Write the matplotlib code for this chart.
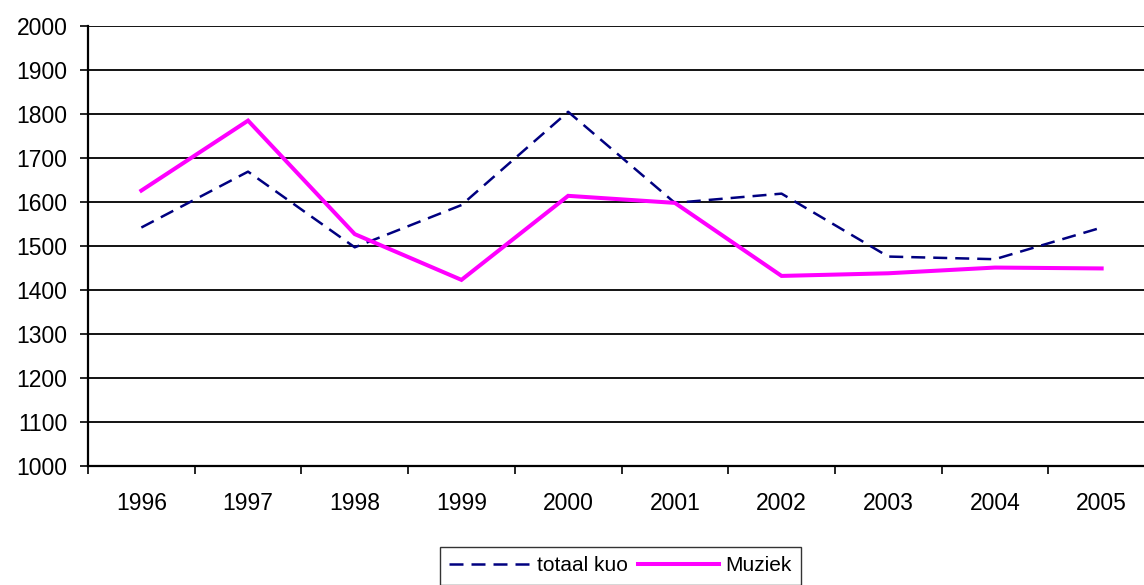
import numpy as np
import matplotlib
matplotlib.use("Agg")
import matplotlib.pyplot as plt

plt.rcParams['font.family'] = ['Liberation Sans', 'DejaVu Sans']

# data
years = ['1996', '1997', '1998', '1999', '2000', '2001', '2002', '2003', '2004', '2005']
totaal_kuo = [1542, 1669, 1497, 1593, 1805, 1598, 1619, 1476, 1470, 1542]
muziek = [1626, 1785, 1527, 1423, 1614, 1598, 1432, 1438, 1451, 1449]
y_ticks = list(range(1000, 2001, 100))

W, H = 1144, 585
fig = plt.figure(figsize=(W / 100, H / 100), dpi=100)
# plot area runs past the right edge of the picture, like the original
ax = fig.add_axes([88 / W, 1 - 466 / H, 1067 / W, 440 / H])

x = np.arange(len(years))
ax.plot(x, totaal_kuo, color='#000080', lw=1.8, dashes=(5.6, 3.2), label='totaal kuo')
ax.plot(x, muziek, color='#FF00FF', lw=2.9, label='Muziek', solid_joinstyle='miter')

ax.set_xlim(-0.5, len(years) - 0.5)
ax.set_ylim(1000, 2000)

for v in y_ticks[1:]:
    ax.axhline(v, color='black', lw=1.3, zorder=0.5)

for side in ['top', 'right']:
    ax.spines[side].set_visible(False)
for side in ['left', 'bottom']:
    ax.spines[side].set_linewidth(1.6)
    ax.spines[side].set_color('black')

ax.set_yticks(y_ticks)
ax.set_yticklabels([str(v) for v in y_ticks])
ax.tick_params(axis='y', length=5.8, width=1.2, pad=9, labelsize=16.5, direction='out')

ax.set_xticks(x)
ax.set_xticklabels(years)
ax.set_xticks(np.arange(-0.5, len(years)), minor=True)
ax.tick_params(axis='x', which='major', length=0, pad=19, labelsize=16.5)
ax.tick_params(axis='x', which='minor', length=5.8, width=1.2, direction='out')

leg = fig.legend(loc='upper left', bbox_to_anchor=(440 / W, 1 - 547 / H), ncol=2,
                 fontsize=15, frameon=True, fancybox=False, handlelength=3.9,
                 handletextpad=0.3, columnspacing=0.5, borderpad=0.45,
                 borderaxespad=0)
leg.get_frame().set_edgecolor('black')
leg.get_frame().set_linewidth(1.0)

fig.savefig('out.png', dpi=100)
